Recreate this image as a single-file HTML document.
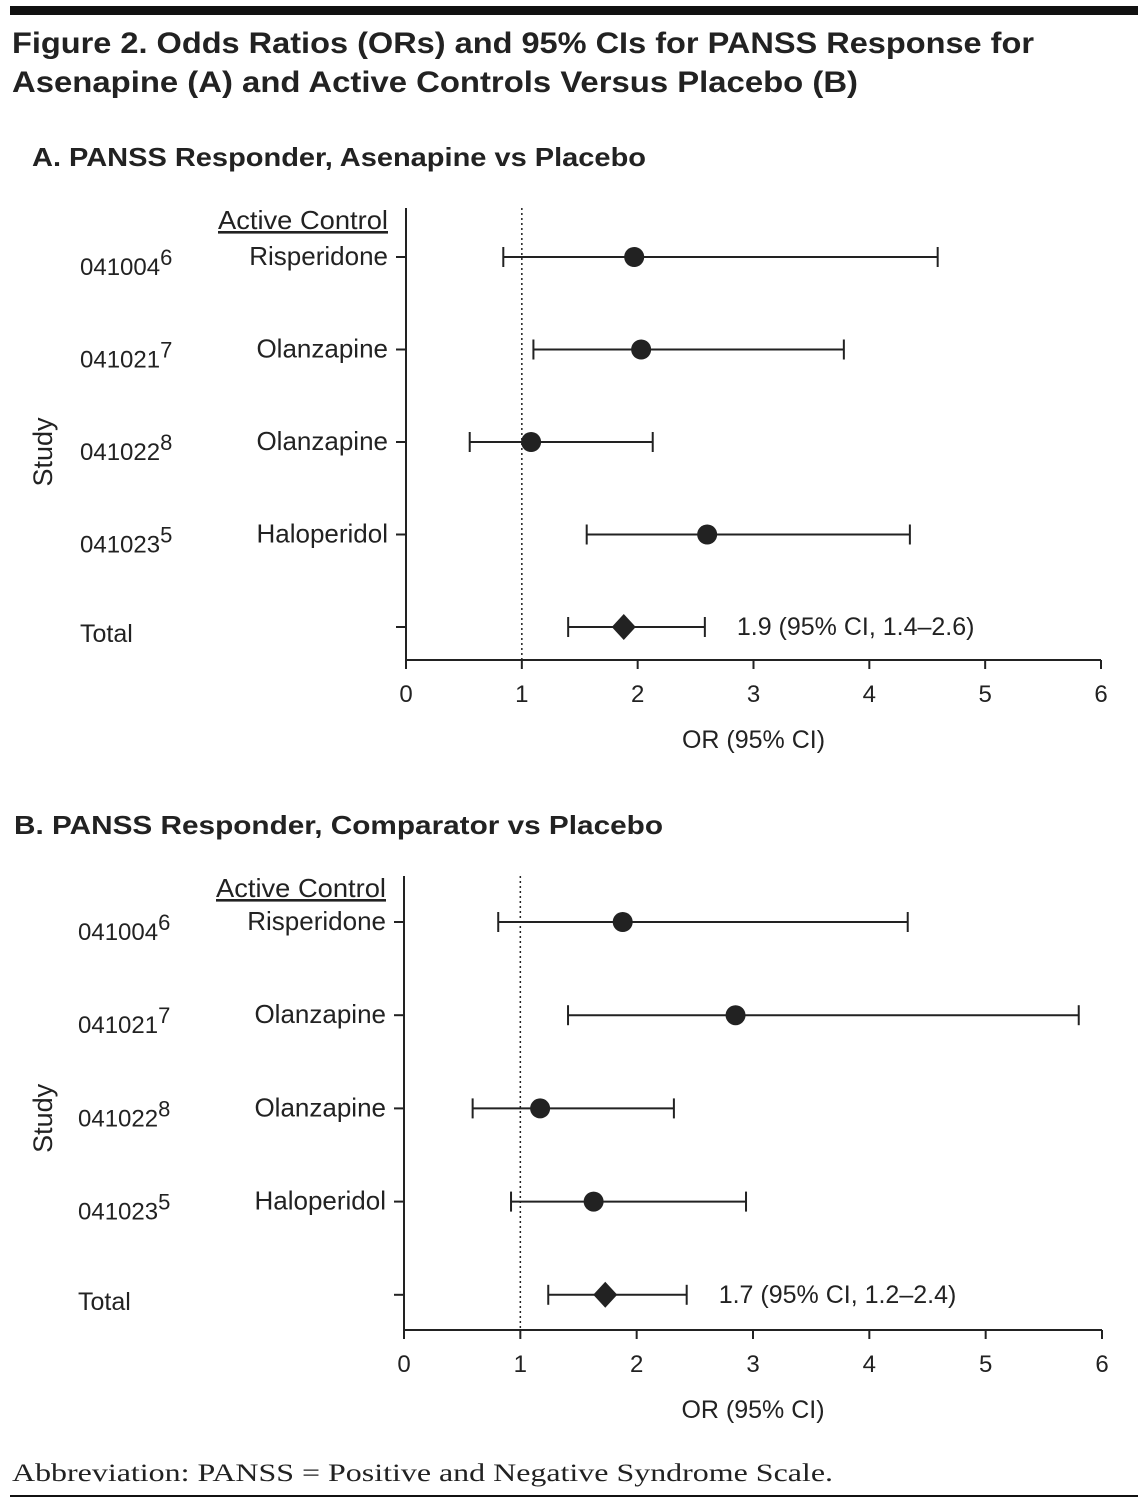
<!DOCTYPE html>
<html><head><meta charset="utf-8"><style>
body{margin:0;background:#fff;}
svg{display:block;font-family:"Liberation Sans",sans-serif;}
</style></head><body>
<svg id="fig" width="1147" height="1502" viewBox="0 0 1147 1502">
<rect x="10" y="6" width="1128" height="9" fill="#111"/>
<text x="12" y="53" font-size="30" font-weight="bold" fill="#222" textLength="1022" lengthAdjust="spacingAndGlyphs">Figure 2. Odds Ratios (ORs) and 95% CIs for PANSS Response for</text>
<text x="12" y="92" font-size="30" font-weight="bold" fill="#222" textLength="846" lengthAdjust="spacingAndGlyphs">Asenapine (A) and Active Controls Versus Placebo (B)</text>
<text x="32" y="166" font-size="26" font-weight="bold" fill="#222" textLength="614" lengthAdjust="spacingAndGlyphs">A. PANSS Responder, Asenapine vs Placebo</text>
<text x="14" y="834" font-size="26" font-weight="bold" fill="#222" textLength="649" lengthAdjust="spacingAndGlyphs">B. PANSS Responder, Comparator vs Placebo</text>
<text x="12" y="1481" font-size="25" font-family="Liberation Serif, serif" fill="#222" textLength="821" lengthAdjust="spacingAndGlyphs">Abbreviation: PANSS = Positive and Negative Syndrome Scale.</text>
<rect x="10" y="1495" width="1128" height="2" fill="#111"/>
<g id="pa"></g>
<g id="pb"></g>
</svg>
<script>
const studies=["041004","041021","041022","041023"];
const sups=["6","7","8","5"];
const controls=["Risperidone","Olanzapine","Olanzapine","Haloperidol"];
const ticks=[0,1,2,3,4,5,6];
const aOR=[1.97,2.03,1.08,2.6];
const aLo=[0.84,1.10,0.55,1.56];
const aHi=[4.59,3.78,2.13,4.35];
const aTotal=[1.88,1.4,2.58];
const aTotalLabel="1.9 (95% CI, 1.4–2.6)";
const bOR=[1.88,2.85,1.17,1.63];
const bLo=[0.81,1.41,0.59,0.92];
const bHi=[4.33,5.8,2.32,2.94];
const bTotal=[1.73,1.24,2.43];
const bTotalLabel="1.7 (95% CI, 1.2–2.4)";
const NS="http://www.w3.org/2000/svg";
function mk(p,t,a,txt){const e=document.createElementNS(NS,t);for(const k in a)e.setAttribute(k,a[k]);if(txt!=null)e.textContent=txt;p.appendChild(e);return e;}
function draw(g,cfg,ors,los,his,tot,totLabel,pfx){
  const x=v=>cfg.x0+(cfg.x6-cfg.x0)*v/6;
  const rowY=i=>cfg.top+cfg.first+i*cfg.step;
  const c="#222";
  let e=mk(g,"line",{x1:cfg.x0,y1:cfg.top,x2:cfg.x0,y2:cfg.axisY,stroke:c,"stroke-width":2});
  
  e=mk(g,"line",{x1:cfg.x0,y1:cfg.axisY,x2:cfg.x6,y2:cfg.axisY,stroke:c,"stroke-width":2});
  
  e=mk(g,"line",{x1:x(1),y1:cfg.top,x2:x(1),y2:cfg.axisY,stroke:c,"stroke-width":1.5,"stroke-dasharray":"2 3"});
  
  ticks.forEach(t=>{
    e=mk(g,"line",{x1:x(t),y1:cfg.axisY,x2:x(t),y2:cfg.axisY+9,stroke:c,"stroke-width":2});
    
    e=mk(g,"text",{x:x(t),y:cfg.axisY+42,"font-size":24,"text-anchor":"middle",fill:c},t);
    
  });
  e=mk(g,"text",{x:x(3),y:cfg.axisY+88,"font-size":25,"text-anchor":"middle",fill:c},"OR (95% CI)");
  
  e=mk(g,"text",{x:0,y:0,"font-size":27,"text-anchor":"middle",fill:c,transform:`translate(52,${rowY(2)+10}) rotate(-90)`},"Study");
  
  e=mk(g,"text",{x:cfg.x0-18,y:cfg.top+21,"font-size":26,"text-anchor":"end",fill:c,"text-decoration":"underline",textLength:170,lengthAdjust:"spacingAndGlyphs"},"Active Control");
  
  for(let i=0;i<=4;i++){
    const y=rowY(i);
    e=mk(g,"line",{x1:cfg.x0-10,y1:y,x2:cfg.x0,y2:y,stroke:c,"stroke-width":2});
    
  }
  studies.forEach((s,i)=>{
    const y=rowY(i);
    e=mk(g,"text",{x:cfg.sx,y:y+18,"font-size":24,fill:c},s);
    const ts=mk(e,"tspan",{dy:-10,"font-size":22},sups[i]);
    
    e=mk(g,"text",{x:cfg.x0-18,y:y+8,"font-size":26,"text-anchor":"end",fill:c},controls[i]);
    
    e=mk(g,"line",{x1:x(los[i]),y1:y,x2:x(his[i]),y2:y,stroke:c,"stroke-width":2});
    
    [los[i],his[i]].forEach(v=>{e=mk(g,"line",{x1:x(v),y1:y-10,x2:x(v),y2:y+10,stroke:c,"stroke-width":2});
      });
    e=mk(g,"circle",{cx:x(ors[i]),cy:y,r:10,fill:c});
    
  });
  const y=rowY(4);
  e=mk(g,"text",{x:cfg.sx,y:y+15,"font-size":25,fill:c},"Total");
  
  e=mk(g,"line",{x1:x(tot[1]),y1:y,x2:x(tot[2]),y2:y,stroke:c,"stroke-width":2});
  
  [tot[1],tot[2]].forEach(v=>{e=mk(g,"line",{x1:x(v),y1:y-10,x2:x(v),y2:y+10,stroke:c,"stroke-width":2});
    });
  const cx=x(tot[0]);
  e=mk(g,"polygon",{points:`${cx},${y-13} ${cx+12},${y} ${cx},${y+13} ${cx-12},${y}`,fill:c});
  
  e=mk(g,"text",{x:x(tot[2])+32,y:y+8,"font-size":25,fill:c},totLabel);
  
}
draw(document.getElementById('pa'),{x0:406,x6:1101,top:208,first:49,step:92.5,axisY:660,sx:80},aOR,aLo,aHi,aTotal,aTotalLabel,'a');
draw(document.getElementById('pb'),{x0:404,x6:1102,top:876,first:46,step:93.2,axisY:1330,sx:78},bOR,bLo,bHi,bTotal,bTotalLabel,'b');
</script>
</body></html>
